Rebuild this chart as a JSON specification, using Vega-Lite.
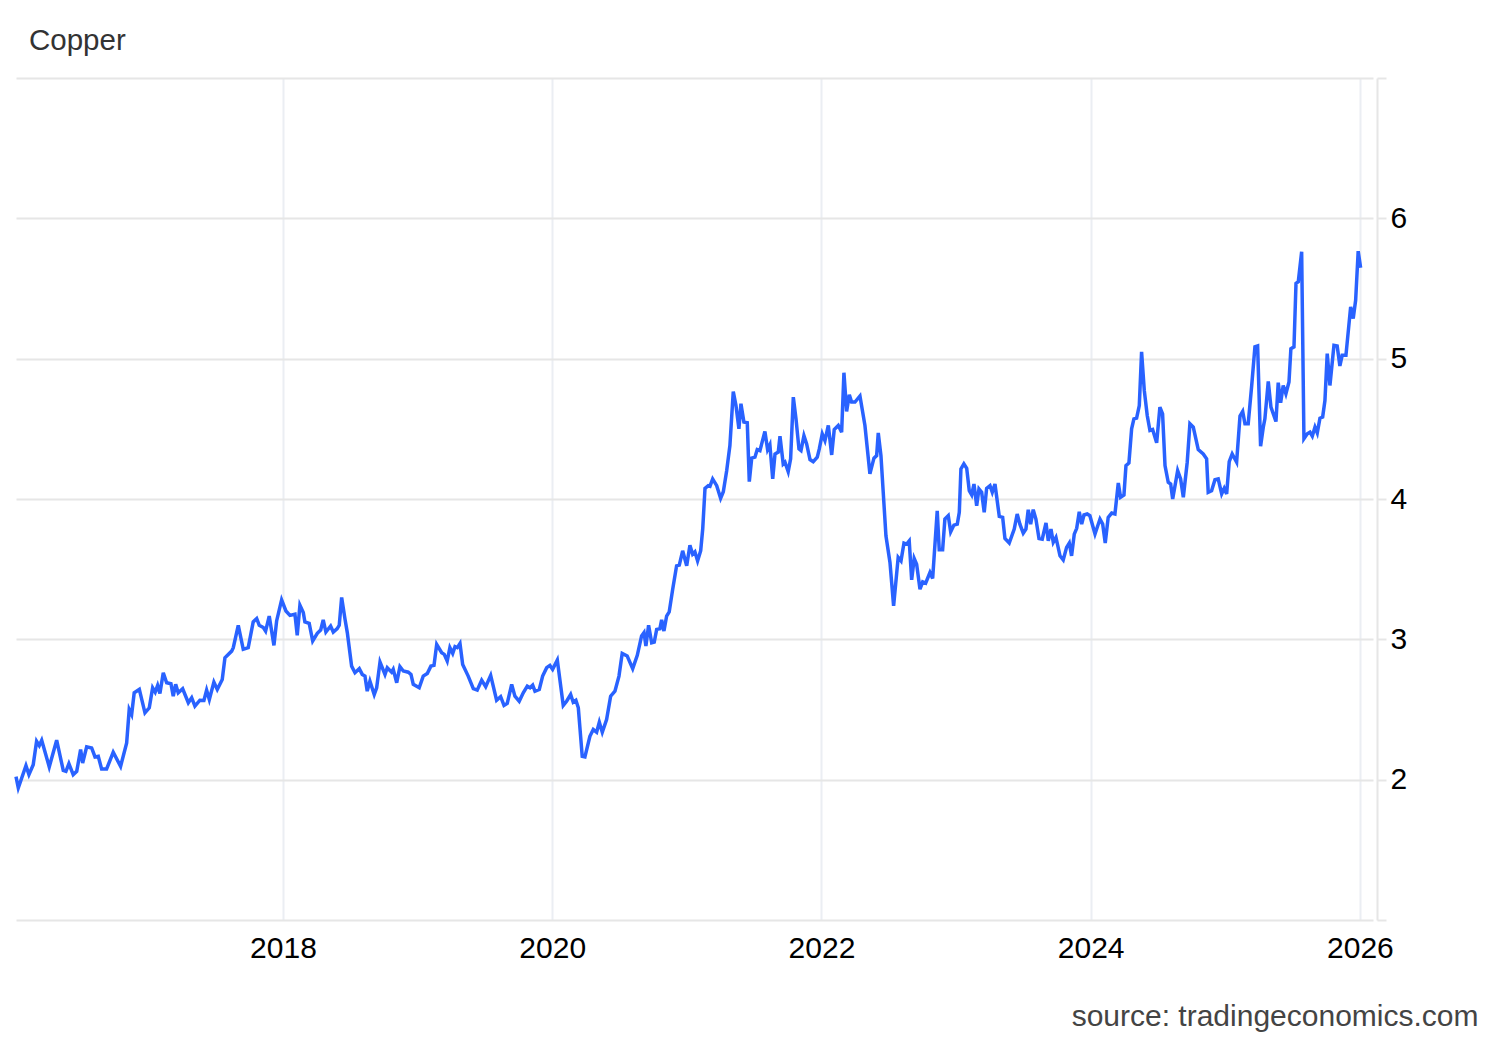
{
"$schema": "https://vega.github.io/schema/vega-lite/v6.json",
"width": 1357, "height": 842,
"autosize": {"type": "none"},
"padding": {"left": 16, "top": 78, "right": 127, "bottom": 120},
"background": "white",
"title": {"text": "Copper", "anchor": "start", "frame": "group", "orient": "top", "fontSize": 29.5, "font": "Liberation Sans", "fontWeight": "normal", "color": "#333333", "baseline": "alphabetic", "offset": -2, "dx": 13},
"data": {"values": [
{"year":2016.017,"price":2.021},{"year":2016.034,"price":1.941},{"year":2016.091,"price":2.100},{"year":2016.113,"price":2.036},{"year":2016.145,"price":2.107},{"year":2016.170,"price":2.274},{"year":2016.190,"price":2.243},{"year":2016.208,"price":2.281},{"year":2016.264,"price":2.091},{"year":2016.319,"price":2.281},{"year":2016.368,"price":2.066},{"year":2016.388,"price":2.059},{"year":2016.410,"price":2.114},{"year":2016.442,"price":2.036},{"year":2016.468,"price":2.059},{"year":2016.497,"price":2.214},{"year":2016.512,"price":2.119},{"year":2016.542,"price":2.234},{"year":2016.579,"price":2.226},{"year":2016.604,"price":2.162},{"year":2016.628,"price":2.166},{"year":2016.653,"price":2.076},{"year":2016.690,"price":2.076},{"year":2016.739,"price":2.195},{"year":2016.794,"price":2.095},{"year":2016.839,"price":2.262},{"year":2016.858,"price":2.500},{"year":2016.876,"price":2.464},{"year":2016.895,"price":2.619},{"year":2016.933,"price":2.643},{"year":2016.975,"price":2.476},{"year":2017.007,"price":2.512},{"year":2017.032,"price":2.655},{"year":2017.051,"price":2.624},{"year":2017.069,"price":2.671},{"year":2017.086,"price":2.614},{"year":2017.111,"price":2.762},{"year":2017.136,"price":2.691},{"year":2017.168,"price":2.684},{"year":2017.185,"price":2.595},{"year":2017.203,"price":2.679},{"year":2017.222,"price":2.619},{"year":2017.255,"price":2.648},{"year":2017.297,"price":2.548},{"year":2017.322,"price":2.584},{"year":2017.346,"price":2.524},{"year":2017.383,"price":2.566},{"year":2017.413,"price":2.564},{"year":2017.433,"price":2.638},{"year":2017.453,"price":2.571},{"year":2017.487,"price":2.695},{"year":2017.512,"price":2.643},{"year":2017.549,"price":2.714},{"year":2017.569,"price":2.869},{"year":2017.619,"price":2.916},{"year":2017.631,"price":2.941},{"year":2017.668,"price":3.100},{"year":2017.705,"price":2.929},{"year":2017.742,"price":2.941},{"year":2017.779,"price":3.124},{"year":2017.805,"price":3.148},{"year":2017.824,"price":3.100},{"year":2017.854,"price":3.084},{"year":2017.871,"price":3.059},{"year":2017.898,"price":3.166},{"year":2017.933,"price":2.957},{"year":2017.953,"price":3.131},{"year":2017.990,"price":3.281},{"year":2018.022,"price":3.202},{"year":2018.052,"price":3.171},{"year":2018.089,"price":3.179},{"year":2018.106,"price":3.029},{"year":2018.126,"price":3.243},{"year":2018.151,"price":3.191},{"year":2018.163,"price":3.124},{"year":2018.195,"price":3.114},{"year":2018.221,"price":2.988},{"year":2018.255,"price":3.043},{"year":2018.280,"price":3.066},{"year":2018.299,"price":3.138},{"year":2018.319,"price":3.052},{"year":2018.354,"price":3.095},{"year":2018.374,"price":3.052},{"year":2018.403,"price":3.076},{"year":2018.418,"price":3.100},{"year":2018.436,"price":3.298},{"year":2018.461,"price":3.143},{"year":2018.478,"price":3.048},{"year":2018.510,"price":2.809},{"year":2018.535,"price":2.762},{"year":2018.567,"price":2.791},{"year":2018.589,"price":2.750},{"year":2018.609,"price":2.738},{"year":2018.626,"price":2.631},{"year":2018.646,"price":2.702},{"year":2018.678,"price":2.607},{"year":2018.696,"price":2.655},{"year":2018.721,"price":2.838},{"year":2018.758,"price":2.750},{"year":2018.775,"price":2.798},{"year":2018.807,"price":2.766},{"year":2018.819,"price":2.786},{"year":2018.845,"price":2.691},{"year":2018.869,"price":2.805},{"year":2018.894,"price":2.774},{"year":2018.931,"price":2.766},{"year":2018.951,"price":2.750},{"year":2018.968,"price":2.679},{"year":2019.012,"price":2.655},{"year":2019.042,"price":2.738},{"year":2019.072,"price":2.757},{"year":2019.099,"price":2.809},{"year":2019.122,"price":2.814},{"year":2019.142,"price":2.964},{"year":2019.179,"price":2.905},{"year":2019.198,"price":2.893},{"year":2019.220,"price":2.845},{"year":2019.240,"price":2.941},{"year":2019.261,"price":2.900},{"year":2019.278,"price":2.948},{"year":2019.295,"price":2.941},{"year":2019.315,"price":2.971},{"year":2019.335,"price":2.821},{"year":2019.376,"price":2.738},{"year":2019.414,"price":2.648},{"year":2019.443,"price":2.638},{"year":2019.476,"price":2.709},{"year":2019.506,"price":2.662},{"year":2019.543,"price":2.743},{"year":2019.587,"price":2.566},{"year":2019.617,"price":2.591},{"year":2019.642,"price":2.529},{"year":2019.666,"price":2.543},{"year":2019.699,"price":2.679},{"year":2019.723,"price":2.595},{"year":2019.755,"price":2.559},{"year":2019.785,"price":2.619},{"year":2019.815,"price":2.666},{"year":2019.835,"price":2.655},{"year":2019.855,"price":2.674},{"year":2019.872,"price":2.631},{"year":2019.904,"price":2.643},{"year":2019.929,"price":2.738},{"year":2019.959,"price":2.798},{"year":2019.983,"price":2.814},{"year":2020.003,"price":2.786},{"year":2020.038,"price":2.852},{"year":2020.082,"price":2.529},{"year":2020.107,"price":2.559},{"year":2020.137,"price":2.607},{"year":2020.156,"price":2.552},{"year":2020.176,"price":2.566},{"year":2020.194,"price":2.512},{"year":2020.223,"price":2.166},{"year":2020.243,"price":2.162},{"year":2020.280,"price":2.309},{"year":2020.305,"price":2.357},{"year":2020.330,"price":2.338},{"year":2020.350,"price":2.409},{"year":2020.372,"price":2.338},{"year":2020.404,"price":2.429},{"year":2020.434,"price":2.595},{"year":2020.466,"price":2.631},{"year":2020.496,"price":2.738},{"year":2020.520,"price":2.900},{"year":2020.557,"price":2.881},{"year":2020.598,"price":2.791},{"year":2020.632,"price":2.886},{"year":2020.664,"price":3.024},{"year":2020.682,"price":3.048},{"year":2020.696,"price":2.952},{"year":2020.716,"price":3.100},{"year":2020.739,"price":2.976},{"year":2020.758,"price":2.981},{"year":2020.776,"price":3.071},{"year":2020.800,"price":3.076},{"year":2020.813,"price":3.138},{"year":2020.830,"price":3.059},{"year":2020.850,"price":3.166},{"year":2020.869,"price":3.195},{"year":2020.895,"price":3.357},{"year":2020.924,"price":3.524},{"year":2020.944,"price":3.529},{"year":2020.969,"price":3.631},{"year":2020.999,"price":3.524},{"year":2021.023,"price":3.671},{"year":2021.043,"price":3.607},{"year":2021.060,"price":3.624},{"year":2021.080,"price":3.559},{"year":2021.103,"price":3.631},{"year":2021.118,"price":3.786},{"year":2021.135,"price":4.076},{"year":2021.159,"price":4.095},{"year":2021.172,"price":4.091},{"year":2021.192,"price":4.143},{"year":2021.222,"price":4.095},{"year":2021.251,"price":4.005},{"year":2021.271,"price":4.052},{"year":2021.296,"price":4.202},{"year":2021.320,"price":4.381},{"year":2021.345,"price":4.766},{"year":2021.365,"price":4.666},{"year":2021.387,"price":4.500},{"year":2021.402,"price":4.679},{"year":2021.424,"price":4.548},{"year":2021.449,"price":4.543},{"year":2021.464,"price":4.124},{"year":2021.482,"price":4.291},{"year":2021.506,"price":4.298},{"year":2021.523,"price":4.352},{"year":2021.543,"price":4.345},{"year":2021.580,"price":4.481},{"year":2021.600,"price":4.352},{"year":2021.617,"price":4.386},{"year":2021.638,"price":4.143},{"year":2021.655,"price":4.321},{"year":2021.679,"price":4.334},{"year":2021.692,"price":4.448},{"year":2021.716,"price":4.250},{"year":2021.729,"price":4.262},{"year":2021.753,"price":4.195},{"year":2021.771,"price":4.286},{"year":2021.791,"price":4.726},{"year":2021.811,"price":4.571},{"year":2021.833,"price":4.357},{"year":2021.848,"price":4.345},{"year":2021.870,"price":4.452},{"year":2021.890,"price":4.393},{"year":2021.915,"price":4.281},{"year":2021.939,"price":4.266},{"year":2021.969,"price":4.298},{"year":2021.984,"price":4.357},{"year":2022.006,"price":4.464},{"year":2022.026,"price":4.416},{"year":2022.051,"price":4.524},{"year":2022.076,"price":4.314},{"year":2022.095,"price":4.495},{"year":2022.125,"price":4.524},{"year":2022.150,"price":4.476},{"year":2022.167,"price":4.900},{"year":2022.187,"price":4.624},{"year":2022.207,"price":4.743},{"year":2022.224,"price":4.691},{"year":2022.249,"price":4.691},{"year":2022.286,"price":4.734},{"year":2022.323,"price":4.524},{"year":2022.360,"price":4.179},{"year":2022.390,"price":4.291},{"year":2022.410,"price":4.309},{"year":2022.422,"price":4.471},{"year":2022.442,"price":4.309},{"year":2022.479,"price":3.738},{"year":2022.509,"price":3.548},{"year":2022.536,"price":3.239},{"year":2022.570,"price":3.584},{"year":2022.591,"price":3.559},{"year":2022.613,"price":3.686},{"year":2022.633,"price":3.679},{"year":2022.652,"price":3.702},{"year":2022.670,"price":3.424},{"year":2022.689,"price":3.576},{"year":2022.707,"price":3.536},{"year":2022.732,"price":3.357},{"year":2022.752,"price":3.409},{"year":2022.774,"price":3.400},{"year":2022.806,"price":3.476},{"year":2022.826,"price":3.434},{"year":2022.860,"price":3.916},{"year":2022.875,"price":3.638},{"year":2022.900,"price":3.638},{"year":2022.917,"price":3.857},{"year":2022.942,"price":3.881},{"year":2022.960,"price":3.766},{"year":2022.984,"price":3.814},{"year":2023.009,"price":3.821},{"year":2023.024,"price":3.905},{"year":2023.036,"price":4.214},{"year":2023.058,"price":4.250},{"year":2023.079,"price":4.219},{"year":2023.098,"price":4.059},{"year":2023.116,"price":4.029},{"year":2023.133,"price":4.107},{"year":2023.153,"price":3.952},{"year":2023.170,"price":4.071},{"year":2023.190,"price":4.048},{"year":2023.209,"price":3.905},{"year":2023.227,"price":4.076},{"year":2023.252,"price":4.095},{"year":2023.269,"price":4.048},{"year":2023.289,"price":4.107},{"year":2023.321,"price":3.876},{"year":2023.346,"price":3.869},{"year":2023.363,"price":3.719},{"year":2023.395,"price":3.686},{"year":2023.432,"price":3.786},{"year":2023.454,"price":3.893},{"year":2023.474,"price":3.821},{"year":2023.499,"price":3.757},{"year":2023.519,"price":3.786},{"year":2023.536,"price":3.924},{"year":2023.554,"price":3.821},{"year":2023.573,"price":3.924},{"year":2023.593,"price":3.857},{"year":2023.616,"price":3.719},{"year":2023.640,"price":3.714},{"year":2023.668,"price":3.829},{"year":2023.685,"price":3.702},{"year":2023.705,"price":3.786},{"year":2023.722,"price":3.691},{"year":2023.742,"price":3.726},{"year":2023.772,"price":3.595},{"year":2023.796,"price":3.566},{"year":2023.821,"price":3.655},{"year":2023.841,"price":3.686},{"year":2023.858,"price":3.595},{"year":2023.878,"price":3.750},{"year":2023.896,"price":3.791},{"year":2023.915,"price":3.909},{"year":2023.933,"price":3.821},{"year":2023.950,"price":3.886},{"year":2023.974,"price":3.893},{"year":2023.994,"price":3.881},{"year":2024.032,"price":3.750},{"year":2024.069,"price":3.857},{"year":2024.089,"price":3.821},{"year":2024.108,"price":3.686},{"year":2024.130,"price":3.869},{"year":2024.156,"price":3.900},{"year":2024.180,"price":3.893},{"year":2024.205,"price":4.114},{"year":2024.222,"price":4.012},{"year":2024.247,"price":4.029},{"year":2024.262,"price":4.238},{"year":2024.284,"price":4.257},{"year":2024.304,"price":4.500},{"year":2024.321,"price":4.571},{"year":2024.341,"price":4.576},{"year":2024.361,"price":4.666},{"year":2024.378,"price":5.048},{"year":2024.398,"price":4.774},{"year":2024.420,"price":4.595},{"year":2024.440,"price":4.488},{"year":2024.460,"price":4.495},{"year":2024.490,"price":4.400},{"year":2024.514,"price":4.655},{"year":2024.534,"price":4.607},{"year":2024.552,"price":4.238},{"year":2024.576,"price":4.119},{"year":2024.594,"price":4.107},{"year":2024.609,"price":4.000},{"year":2024.646,"price":4.202},{"year":2024.668,"price":4.143},{"year":2024.688,"price":4.012},{"year":2024.717,"price":4.262},{"year":2024.737,"price":4.536},{"year":2024.762,"price":4.512},{"year":2024.799,"price":4.352},{"year":2024.836,"price":4.321},{"year":2024.861,"price":4.286},{"year":2024.873,"price":4.048},{"year":2024.898,"price":4.059},{"year":2024.923,"price":4.138},{"year":2024.947,"price":4.143},{"year":2024.973,"price":4.036},{"year":2024.992,"price":4.076},{"year":2025.010,"price":4.036},{"year":2025.029,"price":4.266},{"year":2025.051,"price":4.321},{"year":2025.084,"price":4.262},{"year":2025.109,"price":4.591},{"year":2025.129,"price":4.624},{"year":2025.146,"price":4.536},{"year":2025.170,"price":4.536},{"year":2025.196,"price":4.809},{"year":2025.220,"price":5.084},{"year":2025.240,"price":5.091},{"year":2025.262,"price":4.376},{"year":2025.282,"price":4.512},{"year":2025.294,"price":4.571},{"year":2025.319,"price":4.838},{"year":2025.339,"price":4.655},{"year":2025.376,"price":4.552},{"year":2025.393,"price":4.829},{"year":2025.411,"price":4.686},{"year":2025.430,"price":4.809},{"year":2025.450,"price":4.750},{"year":2025.473,"price":4.834},{"year":2025.487,"price":5.071},{"year":2025.510,"price":5.084},{"year":2025.525,"price":5.536},{"year":2025.542,"price":5.548},{"year":2025.567,"price":5.762},{"year":2025.584,"price":4.429},{"year":2025.609,"price":4.464},{"year":2025.629,"price":4.476},{"year":2025.646,"price":4.448},{"year":2025.666,"price":4.512},{"year":2025.683,"price":4.471},{"year":2025.703,"price":4.576},{"year":2025.723,"price":4.584},{"year":2025.740,"price":4.702},{"year":2025.757,"price":5.036},{"year":2025.777,"price":4.809},{"year":2025.807,"price":5.095},{"year":2025.831,"price":5.091},{"year":2025.851,"price":4.948},{"year":2025.868,"price":5.024},{"year":2025.896,"price":5.024},{"year":2025.931,"price":5.369},{"year":2025.950,"price":5.286},{"year":2025.968,"price":5.416},{"year":2025.987,"price":5.766},{"year":2026.005,"price":5.648}
]},
"mark": {"type": "line", "color": "#2962ff", "strokeWidth": 3.5},
"encoding": {
"x": {"field": "year", "type": "quantitative", "scale": {"domain": [2016.017, 2026.097], "nice": false, "zero": false},
"axis": {"values": [2018, 2020, 2022, 2024, 2026], "format": "d", "grid": true, "gridColor": "#ebeef3", "gridWidth": 2, "domain": false, "ticks": false, "labelFlush": false, "labelOverlap": false, "labelFontSize": 30, "labelFont": "Liberation Sans", "labelColor": "#000000", "labelPadding": 13, "title": "source: tradingeconomics.com", "titleFont": "Liberation Sans", "titleFontSize": 30, "titleFontWeight": "normal", "titleColor": "#444444", "titleX": 1462, "titleY": 105, "titleAlign": "right", "titleBaseline": "alphabetic"}},
"y": {"field": "price", "type": "quantitative", "scale": {"domain": [1, 7], "nice": false, "zero": false},
"axis": {"orient": "right", "values": [1, 2, 3, 4, 5, 6, 7], "labelExpr": "datum.value == 1 || datum.value == 7 ? '' : datum.label", "grid": true, "gridColor": "#e6e6e6", "gridWidth": 2, "domain": true, "domainColor": "#e6e6e6", "domainWidth": 2, "ticks": true, "tickColor": "#e6e6e6", "tickWidth": 2, "tickSize": 9, "offset": 4, "labelFontSize": 30, "labelFont": "Liberation Sans", "labelColor": "#000000", "labelPadding": 4, "labelBaseline": "middle", "title": null}}
},
"config": {"view": {"stroke": null}}
}
